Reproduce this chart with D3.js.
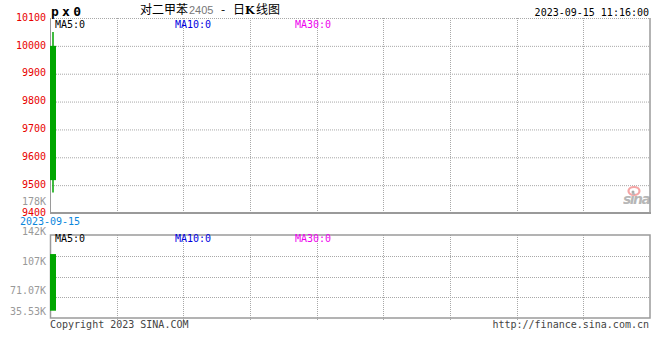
<!DOCTYPE html>
<html><head><meta charset="utf-8">
<script src="https://cdn.jsdelivr.net/npm/d3@7/dist/d3.min.js"></script>
<style>
html,body{margin:0;padding:0;background:#fff;}
svg{display:block;}
text{font-family:"DejaVu Sans Mono","Liberation Mono",monospace;font-size:10px;}
</style></head>
<body>
<script>
// ---- data ----
const dates = ["2023-09-15"];
const opens = [10000];
const closes = [9518];
const highs = [10050];
const lows = [9474];
const volumes = [101000];
const priceTicks = [9400, 9500, 9600, 9700, 9800, 9900, 10000, 10100];
const volTickValues = [35533, 71067, 106600, 142133, 177667];
const volTickLabels = ["35.53K", "71.07K", "107K", "142K", "178K"];
const maLabels = ["MA5:0", "MA10:0", "MA30:0"];
const title = {name: "对二甲苯", code: "2405", rest: "日", k: "K", tail: "线图"};
const stamp = "2023-09-15 11:16:00";

// ---- layout ----
const W = 660, H = 360;
const L = 50, R = 650;
const pTop = 18, pBot = 213;
const vTop = 235, vBot = 318;
const svg = d3.select("body").append("svg").attr("width", W).attr("height", H);

const x = d3.scaleLinear().domain([0, 100]).range([L, R]);
const y = d3.scaleLinear().domain([9400, 10100]).range([pBot, pTop]);
const vy = d3.scaleLinear().domain([0, 142133]).range([310.7, 231]);
const vLab = d3.scaleLinear().domain([0, 177667]).range([351, 201]);

const gridCol = "#a8a8a8", borderCol = "#9a9a9a";
const vx = d3.range(1, 9).map(k => L + k * (R - L) / 9);

// ---- top panel grid ----
const gTop = svg.append("g");
gTop.selectAll("line.h").data(priceTicks.filter(t => t > 9400)).join("line")
  .attr("x1", L).attr("x2", R).attr("y1", d => y(d) + 0.5).attr("y2", d => y(d) + 0.5)
  .attr("stroke", gridCol).attr("stroke-dasharray", "1,1");
gTop.selectAll("line.v").data(vx).join("line")
  .attr("x1", d => Math.round(d) + 0.5).attr("x2", d => Math.round(d) + 0.5)
  .attr("y1", pTop).attr("y2", pBot)
  .attr("stroke", gridCol).attr("stroke-dasharray", "1,1");
gTop.append("line").attr("x1", L + 0.5).attr("x2", L + 0.5).attr("y1", pTop).attr("y2", pBot + 1).attr("stroke", borderCol);
gTop.append("line").attr("x1", R).attr("x2", R).attr("y1", pTop).attr("y2", pBot + 1).attr("stroke", borderCol).attr("stroke-width", 1.5);
gTop.append("line").attr("x1", L).attr("x2", R + 1).attr("y1", pBot).attr("y2", pBot).attr("stroke", borderCol).attr("stroke-width", 2);

// price labels
svg.append("g").selectAll("text").data(priceTicks).join("text")
  .attr("x", 46).attr("y", d => y(d) - 0.8).attr("dy", "0.35em").attr("text-anchor", "end")
  .attr("fill", "#e80000").text(d => d);

// candles
const cg = svg.append("g");
dates.forEach((d, i) => {
  const cx = (x(i) + x(i + 1)) / 2;
  const col = closes[i] < opens[i] ? "#00a600" : "#e80000";
  cg.append("line").attr("x1", cx).attr("x2", cx).attr("y1", y(highs[i])).attr("y2", y(lows[i]))
    .attr("stroke", col).attr("stroke-width", 1.5);
  cg.append("rect").attr("x", x(i)).attr("width", x(i + 1) - x(i))
    .attr("y", y(Math.max(opens[i], closes[i])))
    .attr("height", y(Math.min(opens[i], closes[i])) - y(Math.max(opens[i], closes[i])))
    .attr("fill", col);
});

// ---- volume panel ----
const gVol = svg.append("g");
gVol.selectAll("line.h").data(d3.range(1, 4).map(k => vTop + k * (vBot - vTop) / 4)).join("line")
  .attr("x1", L).attr("x2", R).attr("y1", d => Math.round(d) + 0.5).attr("y2", d => Math.round(d) + 0.5)
  .attr("stroke", gridCol).attr("stroke-dasharray", "1,1");
gVol.selectAll("line.v").data(vx).join("line")
  .attr("x1", d => Math.round(d) + 0.5).attr("x2", d => Math.round(d) + 0.5)
  .attr("y1", vTop).attr("y2", vBot + 3)
  .attr("stroke", gridCol).attr("stroke-dasharray", "1,1");
gVol.append("rect").attr("x", L + 0.5).attr("y", vTop).attr("width", R - L - 0.5).attr("height", vBot - vTop)
  .attr("fill", "none").attr("stroke", borderCol).attr("stroke-width", 1.5);

dates.forEach((d, i) => {
  const col = closes[i] < opens[i] ? "#00a600" : "#e80000";
  gVol.append("rect").attr("x", x(i)).attr("width", x(i + 1) - x(i))
    .attr("y", vy(volumes[i])).attr("height", vy(0) - vy(volumes[i])).attr("fill", col);
});

svg.append("g").selectAll("text").data(volTickValues).join("text")
  .attr("x", 46).attr("y", d => Math.min(vLab(d), 311)).attr("dy", "0.35em").attr("text-anchor", "end")
  .attr("fill", "#999").text((d, i) => volTickLabels[i]);

// date label
svg.append("text").attr("x", 50).attr("y", 221.5).attr("dy", "0.35em").attr("text-anchor", "middle")
  .attr("fill", "#0a86dc").text(dates[dates.length - 1]);

// MA labels
const maCols = ["#000", "#0000e0", "#ee00ee"];
const maX = [55, 175, 295];
[24, 238].forEach(yy => {
  maLabels.forEach((m, i) => {
    svg.append("text").attr("x", maX[i]).attr("y", yy).attr("dy", "0.35em").attr("fill", maCols[i]).text(m);
  });
});

// header
svg.append("text").attr("x", 51).attr("y", 11).attr("dy", "0.35em")
  .style("font-size", "13px").style("font-weight", "bold").style("font-family", "'DejaVu Sans Mono',monospace")
  .attr("textLength", 30).attr("lengthAdjust", "spacing").text("p x 0");
const t = svg.append("text").attr("y", 10).attr("dy", "0.35em")
  .style("font-family", "'Noto Sans CJK SC','DejaVu Sans',sans-serif").style("font-size", "12px");
t.append("tspan").attr("x", 140).text(title.name);
t.append("tspan").attr("x", 189).attr("fill", "#777").style("font-family", "'Liberation Sans',Arial,sans-serif").style("font-size", "11px").text(title.code);
t.append("tspan").attr("x", 221).text("-");
t.append("tspan").attr("x", 233).text(title.rest);
t.append("tspan").attr("x", 245).style("font-weight", "bold").style("font-family", "'DejaVu Serif',serif").style("font-size", "11px").text(title.k);
t.append("tspan").attr("x", 256).text(title.tail);

svg.append("text").attr("x", 649).attr("y", 12).attr("dy", "0.35em").attr("text-anchor", "end").text(stamp);

// footer
svg.append("text").attr("x", 50).attr("y", 324).attr("dy", "0.35em").attr("fill", "#444").text("Copyright 2023 SINA.COM");
svg.append("text").attr("x", 649).attr("y", 324).attr("dy", "0.35em").attr("text-anchor", "end").attr("fill", "#444").text("http://finance.sina.com.cn");

// watermark logo
const lg = svg.append("g").attr("opacity", 0.7);
lg.append("ellipse").attr("cx", 634).attr("cy", 191).attr("rx", 5.5).attr("ry", 4)
  .attr("fill", "none").attr("stroke", "#f28080").attr("stroke-width", 2.2);
lg.append("circle").attr("cx", 633).attr("cy", 192).attr("r", 1.5).attr("fill", "#888");
lg.append("text").attr("x", 623).attr("y", 204).style("font-family", "'DejaVu Sans',sans-serif")
  .style("font-size", "14px").style("font-weight", "bold").style("font-style", "italic")
  .attr("fill", "#999").attr("textLength", 28).text("sina");
</script>
</body></html>
